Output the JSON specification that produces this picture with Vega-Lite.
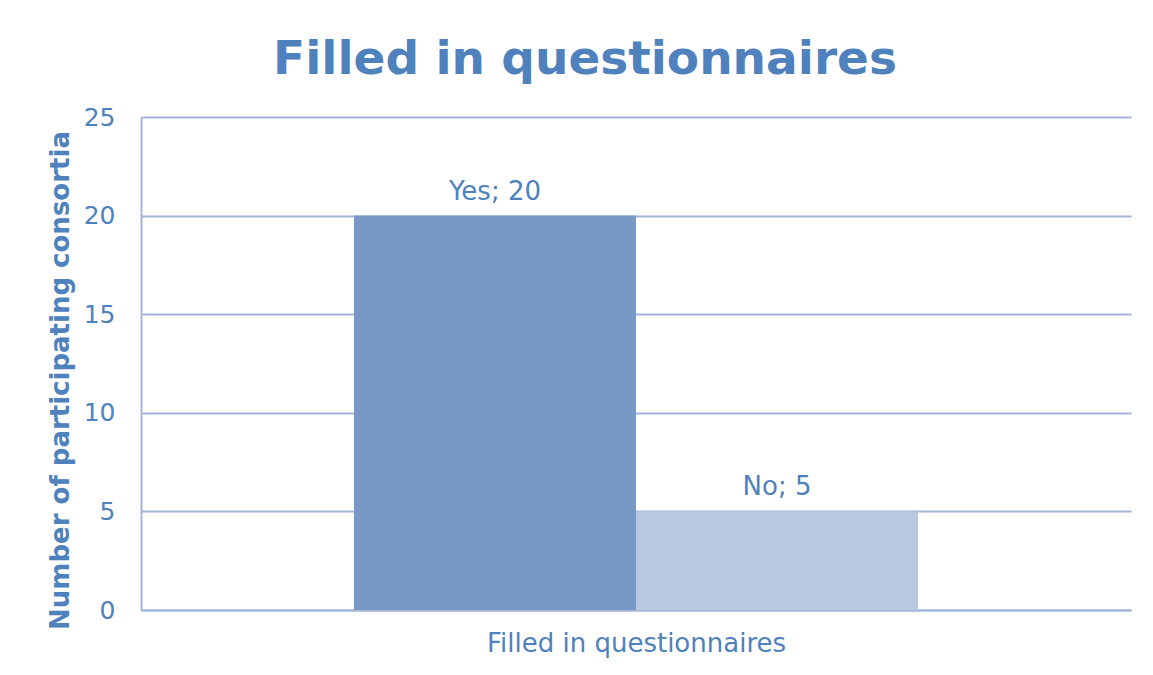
{
  "$schema": "https://vega.github.io/schema/vega-lite/v6.json",
  "width": 990,
  "height": 493,
  "autosize": {"type": "none"},
  "padding": {"left": 141, "top": 117, "right": 22, "bottom": 65},
  "background": "white",
  "title": {
    "text": "Filled in questionnaires",
    "font": "DejaVu Sans",
    "fontSize": 47,
    "fontWeight": "bold",
    "color": "#4F81BD",
    "anchor": "middle",
    "dx": -51,
    "offset": 21
  },
  "data": {
    "values": [
      {"answer": "Yes", "count": 20, "label": "Yes; 20"},
      {"answer": "No", "count": 5, "label": "No; 5"}
    ]
  },
  "encoding": {
    "x": {
      "field": "answer",
      "type": "nominal",
      "sort": ["Yes", "No"],
      "scale": {"paddingInner": 0, "paddingOuter": 0.755},
      "axis": {
        "labels": false,
        "ticks": false,
        "domain": true,
        "domainColor": "#A3B6D9",
        "domainWidth": 2,
        "title": "Filled in questionnaires",
        "titleFont": "DejaVu Sans",
        "titleFontSize": 26,
        "titleFontWeight": "normal",
        "titleColor": "#4F81BD",
        "titlePadding": 20
      }
    },
    "y": {
      "field": "count",
      "type": "quantitative",
      "scale": {"domain": [0, 25], "nice": false},
      "axis": {
        "values": [0, 5, 10, 15, 20, 25],
        "ticks": false,
        "domainColor": "#A3B6D9",
        "domainWidth": 2,
        "gridColor": "#A3B6D9",
        "gridWidth": 2,
        "labelFont": "DejaVu Sans",
        "labelFontSize": 25,
        "labelColor": "#4F81BD",
        "labelPadding": 26,
        "title": "Number of participating consortia",
        "titleFont": "DejaVu Sans",
        "titleFontSize": 26,
        "titleFontWeight": "bold",
        "titleColor": "#4F81BD",
        "titleX": -81,
        "titleY": 263,
        "titleBaseline": "middle",
        "titleAngle": -90
      }
    }
  },
  "layer": [
    {
      "mark": {"type": "bar"},
      "encoding": {
        "color": {
          "field": "answer",
          "type": "nominal",
          "scale": {"domain": ["Yes", "No"], "range": ["#7899C6", "#BAC8DF"]},
          "legend": null
        }
      }
    },
    {
      "mark": {
        "type": "text",
        "baseline": "alphabetic",
        "dy": -16,
        "font": "DejaVu Sans",
        "fontSize": 26,
        "color": "#4F81BD"
      },
      "encoding": {"text": {"field": "label"}}
    }
  ],
  "config": {"view": {"stroke": null}}
}
